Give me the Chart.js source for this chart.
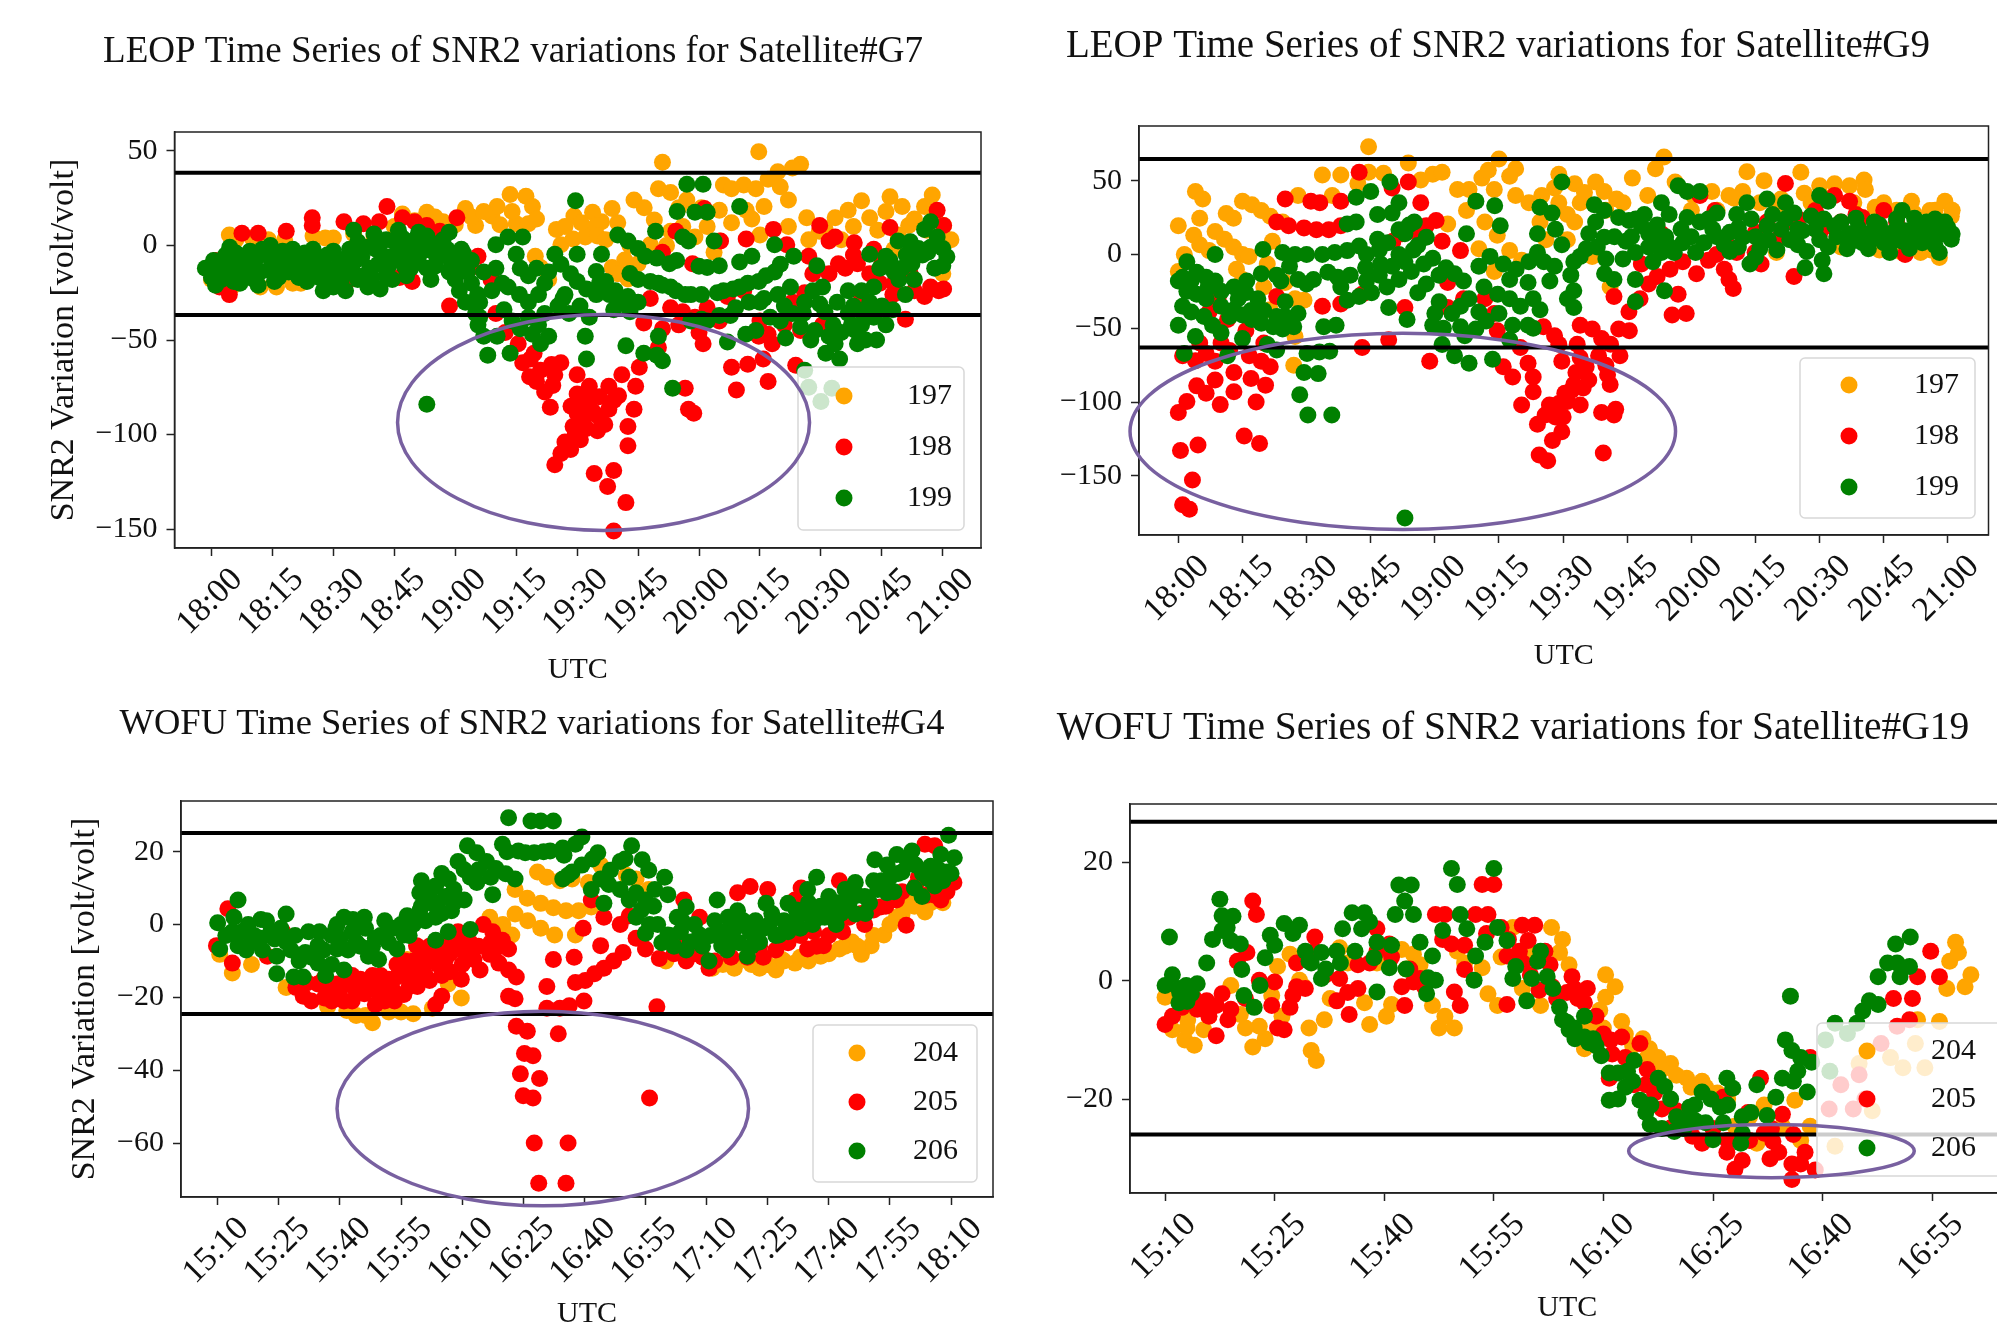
<!DOCTYPE html>
<html lang="en">
<head>
<meta charset="UTF-8">
<title>SNR2 variations</title>
<script src="https://cdn.jsdelivr.net/npm/chart.js"></script>
<style>
    html, body { margin: 0; background: #fff; width: 1997px; height: 1325px; overflow: hidden; }
    canvas { position: absolute; filter: blur(0.7px); }
</style>
</head>
<body>
<canvas id="g7"></canvas>
<canvas id="g9"></canvas>
<canvas id="g4"></canvas>
<canvas id="g19"></canvas>
<script>
// minutes after the first tick, one array of labels per time window
const tickMinutes = [0, 15, 30, 45, 60, 75, 90, 105, 120, 135, 150, 165, 180];
const leopLabels = ['18:00', '18:15', '18:30', '18:45', '19:00', '19:15', '19:30', '19:45', '20:00', '20:15', '20:30', '20:45', '21:00'];
const wofuLabels = ['15:10', '15:25', '15:40', '15:55', '16:10', '16:25', '16:40', '16:55', '17:10', '17:25', '17:40', '17:55', '18:10'];
const tickMinutesG19 = [0, 15, 30, 45, 60, 75, 90, 105];

const yTicksG7 = [50, 0, -50, -100, -150];
const yTicksG9 = [50, 0, -50, -100, -150];
const yTicksG4 = [20, 0, -20, -40, -60];
const yTicksG19 = [20, 0, -20];

const leopStations = ['197', '198', '199'];
const wofuStations = ['204', '205', '206'];
const colors = ['orange', 'red', 'green'];

// threshold lines [upper, lower]
const limitsG7 = [38.5, -36.8];
const limitsG9 = [64.6, -63];
const limitsG4 = [25.1, -24.6];
const limitsG19 = [26.9, -26];

// [minutes, SNR2 variation]
const g7_197 = [[0,-18],[5,-22],[4.4,5.5],[12,-22],[16,-22],[22,-20],[14,3],[25,5],[30,4],[47,16.6],[53,17.6],[57,12.5],[62.5,19.6],[65,10.5],[69,15.6],[70.3,20.6],[73.5,27],[77.4,26],[79,20.6],[75,11.5],[78,11.5],[84.9,8.5],[86,0.4],[89,3.4],[89.2,15.6],[93.8,17.6],[98.6,19.6],[96,12.5],[93,7.5],[92,4.5],[94.7,10.5],[79.7,-5.7],[81,-11.7],[83,-18],[111,44],[134.7,49.6],[145,43],[143,41],[139.4,39],[137,35],[131,32],[126,32],[110,30],[113,28],[117,24],[120.6,20],[125,18.6],[131.6,18.6],[136,20.6],[142,24],[104,24],[106.5,20],[109,13.5],[113,7.5],[119,4.5],[125,2.4],[135,5.5],[146.5,14.6],[149.6,7.5],[153.5,14.6],[156.7,18.6],[160,23.7],[162,14.6],[167,25.7],[170,20.6],[175.5,20.6],[177.4,26.7],[180.2,10.5],[171.6,10.5],[169,5.5],[105,-9.7],[101.7,-7.7],[98.6,-11.7],[102.5,-17.8],[123.7,-3.6],[108,0.4],[180,-15],[174,-5],[6,3],[10,4],[18,3],[20,-20],[28,4],[35,6],[40,5],[45,10],[50,13],[55,15],[60,11],[64,15],[67,18],[71,11],[74,18],[80,14],[87,10],[91,12],[95,5],[100,12],[97,3],[103,0],[100,-15],[112,0],[116,10],[115,20],[128,12],[122,10],[128,30],[134,30],[140,31],[133,14],[142,10],[147,3],[151,9],[155,3],[158,10],[164,8],[166,18],[173,14],[178,15],[176,8],[182,3],[168,-2]];
const g7_198 = [[7.5,6.5],[11.5,6.5],[18.4,7.5],[24.8,14.6],[24.8,10.5],[32.6,12.5],[37.4,11.5],[41.3,12.5],[43.2,20.6],[47,14.6],[50,12.5],[53,10.5],[56.2,7.5],[60.4,14.6],[1,-8],[2,-22],[4.4,-26],[34,-18],[46.3,-17],[49.4,-19],[58.6,-32],[65.6,-5.7],[68.8,-18],[64,-11.7],[70,-36],[72.3,-46],[75.5,-52],[79.4,-57],[76.6,-62],[78.3,-69.4],[83.7,-63],[84.5,-68.4],[82,-77.5],[83.4,-85.6],[90,-68.4],[90,-78.5],[93,-74.5],[93,-80.5],[97.8,-74.5],[101,-68.4],[100.2,-79.5],[104.4,-74.5],[90,-88.7],[93.8,-87.6],[97.8,-86.6],[104,-86.6],[89,-95.7],[92.3,-96.8],[96.8,-94.7],[102.5,-95.7],[102.5,-105.9],[90.8,-102.8],[88.4,-107.9],[86,-110],[84.5,-116],[94.2,-120.6],[99,-119],[97.5,-127.5],[102,-136],[99,-151],[105.3,-64.4],[111,-44],[110,-54],[116.6,-75.5],[117.4,-86.6],[118.7,-88.7],[121,-52],[128,-64.4],[132,-62.8],[135.8,-60],[129.2,-76.5],[137,-72],[143.8,-63.4],[106.4,-41],[114.3,7.5],[118.4,-9.7],[121.3,19.6],[125.3,2.4],[131.6,3.4],[138.3,8.5],[111,-3.6],[108,-28],[113,-33],[116,-35],[119,-38],[125,-40],[134.7,-48],[137,-47],[141,-42],[150.4,-42],[170.8,-39],[149.7,10.5],[152,2.4],[158.2,1.4],[153.5,4.5],[154.3,-9.7],[147,-5.7],[159,-9.7],[167,9.5],[165,-9.7],[178.6,18.6],[180.2,10.5],[175.5,-27],[180.2,-23],[177,-22],[164.5,-20],[167.7,-26],[141.6,0.4],[120,-46],[115,-42],[122,-33],[127,-27],[131,-24],[135,-40],[143,-30],[146,-25],[148,-15],[152,-15],[156,-12],[145,-45],[138,-52],[158,-5],[162,-15],[172,-15],[168,-20],[173,-24],[179,-24],[163,-2],[160,-28],[87,-104],[89.5,-100],[91.5,-92],[88.5,-85],[95,-90],[95.5,-80],[91,-83],[99,-82],[95,-98],[80,-72],[78.5,-60],[81,-66],[84,-74],[86,-62]];
const g7_199 = [[-1.5,-12],[0,-17],[0.5,-8],[1,-21],[3,-14],[3.5,-5],[4.5,-1],[5,-11],[5.5,-19],[7.5,-7],[8,-15],[9.5,-3],[10,-11],[10.5,-18],[11.5,-21],[13.5,-5],[14,-13],[14.5,0],[16,-9],[16.5,-17],[18.5,-7],[19,-14],[20,-2],[21,-10],[21.5,-17],[23,-4],[24,-12],[25,-2],[26,-8],[26.5,-17],[27.5,-24],[28.5,-5],[29,-13],[30,-22],[31.5,-9],[32,-18],[33,-24],[34,-2],[34.5,-12],[35,8],[36,2],[37,-6],[37.5,-16],[38.5,-22],[40,6],[40.5,-2],[41,-10],[41.5,-23],[43,-16],[44,-6],[45,2],[46,8],[46.5,-3],[47.5,-11],[48,-16],[49.5,-6],[50,3],[51,7],[52,-3],[53,5],[53,-12],[54,-18],[55.5,-7],[56,1],[58,-2],[58.5,7],[59,-11],[60,-6],[61.5,-2],[62.5,-8],[63,-14],[60,-18],[61,-24],[62.5,-30],[65,-36],[65.6,-42],[68,-58],[73.5,-57],[70.3,-48],[67,-14],[70,0.4],[73,4.5],[76.6,4.5],[75,-4.7],[69,-24],[65.5,-26],[71.6,-20],[73,-22],[75.8,-26],[78,-30],[80.5,-26],[82,-20],[84.5,-4.7],[86,-10],[88.4,-15],[90,-19],[92.3,-23],[94.7,-26],[90,-4.7],[87,-26],[85.3,-32],[90.7,-32],[93,-38],[92,-48],[92.3,-60],[99,-34],[89.6,23.7],[96,-4.7],[94.7,-13.8],[97,-19],[99.4,-24],[102.5,-27],[105,-30],[100,5.5],[102.5,2.4],[105,-1.6],[106.8,-5.7],[103,-14.8],[102,-53],[106.4,-57],[109.6,-58],[111,-61],[110,-48],[113.5,-75.5],[53,-84],[117,32.4],[121,32.4],[114.6,18],[119,17.6],[122,17.6],[130,20.6],[109.3,7.5],[116,4.5],[117.4,2.4],[123.7,2.4],[138.6,0.4],[109.6,-6.7],[112.7,-9.7],[122,-11.7],[125,-10.7],[130,-8.7],[133,-5.7],[143.3,-5.7],[108,-19],[111,-21],[114.3,-24],[116.6,-26],[120.6,-26],[124.5,-25],[128.4,-23],[134.7,-19],[138.6,-14],[140,-10],[120.6,-39],[127.7,-37],[132.3,-30],[136,-28],[139.4,-26],[142.5,-22],[127,-51],[131.5,-47],[134,-45],[141.3,-49],[145,-43],[147.5,-50],[149,-10.7],[150.4,-22],[149.7,-31],[145.7,-36],[141,-32],[151.2,-57],[154.6,-60],[153.5,-52],[155,-46],[156.7,-36],[156.7,-24],[160,-24],[159,-52],[163.7,-50],[166,-42],[162,-30],[167.7,-34],[162,-4.7],[164.5,-12],[166,-5.7],[169,2.4],[170.8,-26],[169.2,-18],[172.4,-9.7],[175.5,8.5],[178.6,4.5],[180,-1.6],[180,-10.7],[176.3,-3.6],[174,-1.6],[177,12.5],[160,-42],[157.5,-42],[146,-66],[147,-75],[150,-82.5],[152.7,-75.5],[1,-13],[2,-10],[2.5,-18],[4,-8],[6,-4],[6.5,-14],[7,-20],[9,-9],[11,-7],[12,-14],[12.5,-2],[15,-7],[15.5,-19],[17,-13],[17.5,-3],[20,-8],[22,-13],[22.5,-6],[23.5,-19],[25,-16],[27,-12],[28,-19],[30,-3],[30.5,-16],[33,-7],[33.5,-14],[35.5,-8],[36,-18],[38,-1],[39,-12],[39.5,-17],[41.5,2],[42,-5],[43,3],[43.5,-11],[44.5,-18],[46,-8],[47,4],[48.5,-1],[49,-12],[51,-9],[52,1],[54.5,-3],[55,-11],[57,-5],[57,3],[58.5,-14],[60.5,-12],[62,-4],[64,-8],[64,-20],[66,-30],[66,-38],[67,-48],[70,-12],[72,-34],[74,-40],[76,-44],[78,-38],[79,-47],[80.5,-42],[82,-36],[83,-48],[81,-52],[76,-12],[78,-16],[80,-12],[83,-14],[86.5,-28],[88,-36],[95.5,-20],[98,-26],[100.5,-30],[103,-35],[118,-26],[122,-40],[118,-40],[105,-18],[110,-20],[113,-22],[126,-24],[130,-22],[132,-20],[136.5,-16],[120,-11],[114.5,-8],[135,-30],[129,-33],[125,-37],[137.5,-38],[140,-40],[143,-36],[146,-30],[148,-24],[151,-35],[153,-42],[148.5,-45],[152,-48],[154,-30],[158,-32],[160,-35],[158.5,-45],[161,-50],[163,-38],[165,-32],[163,-22],[168,-14],[171,-5],[173,-18],[178,-12],[175,-5],[177,-1],[181,-6],[170,-12],[167,-8],[172,2]];

const g9_197 = [[0,19.4],[4,42.7],[5.7,37.5],[5,24.6],[11.2,27.7],[12.9,24.6],[15,36],[17.2,33.6],[19.4,29.8],[21.5,25.9],[24.4,22],[1.4,0],[0,-11.6],[3.6,13],[5,6.5],[7.2,2.6],[8.6,15.5],[10.8,10.3],[12.9,5],[15,0],[16.5,-1.3],[13.6,-10],[15,-17],[20,-22],[21.5,-37.5],[22,9],[20.8,-6.5],[27.3,-30],[29.4,-31],[27,-75],[27.3,-55.6],[25,-19],[28,40],[33.7,53.8],[38,53.8],[44.5,73],[44.5,55.6],[53.8,62],[56.7,50.5],[59.5,54.3],[61.7,55.6],[65.3,44],[71,51.7],[72.5,57],[75,64.7],[78.9,58],[77.5,53],[78.9,40],[73.9,44],[71.7,22],[67.4,29.8],[63,20.7],[74.6,13],[77.5,2.6],[80.3,-4],[70.3,3.9],[73.9,-11.6],[89,54.3],[92.7,47.9],[97.6,49],[99.6,42.7],[102.5,37.5],[106.2,51.7],[111.6,58],[113.6,66],[89,35],[91,27],[92.7,22],[84.6,22],[96.8,-1.3],[101,-22],[109.8,40],[116.2,49],[124.8,42.7],[128.8,40],[133,56],[137,50],[145.6,55.6],[132,42.7],[141,37.5],[146.4,41.4],[150,46.6],[153.5,47.9],[157,46.6],[160.4,50.5],[160.7,44],[165,35],[171.5,36],[175.8,29.8],[179.3,36],[180.8,25.9],[139.9,1.3],[169.3,1.3],[173.6,1.3],[120.5,40],[120,30],[126,30],[130,38],[136,35],[140,30],[148,35],[152,38],[158,35],[163,32],[168,30],[172,28],[177,30],[181,30],[155,5],[164,3],[176,3],[178,-2],[100,30],[104,35],[94,35],[88,45],[95,42],[85,40],[86,10],[91,10],[36,40],[42,48],[48,55],[68,44],[82,35]];
const g9_198 = [[0,-107],[2,-99.6],[4.3,-89],[6.5,-94],[8.6,-85],[13,-93],[9.8,-101.7],[17,-84],[20.4,-88.5],[18.2,-100],[0.5,-132.7],[4.6,-129],[3.3,-152.7],[1,-169.5],[2.6,-172.6],[15.4,-123],[19,-128],[1,-68.6],[6.5,-67],[8.6,-72.4],[16.6,-68.6],[19.4,-72.4],[21.5,-76],[9.3,-30],[7.2,-39],[15.8,-51.7],[11.5,-44],[25,37.5],[31,36],[33.1,35],[38,36],[42.3,55.6],[23,22],[25.8,19.4],[29.4,18],[32.3,16.8],[35.2,16.8],[38,19.4],[23,-28.5],[33.7,-35],[38,-33.6],[43,-27],[43,-63],[49.2,-57.7],[58.8,-72.4],[53.8,49],[50,45],[56.7,35],[60.3,23],[58,19.4],[52.4,14],[50.2,9],[55.2,15.5],[61.7,9],[66,2.6],[53,-36],[63,-19],[63,-36],[66.7,-30],[71.7,-30],[73.9,-40],[74.6,-51.7],[76,-76],[78.2,-83],[80,-63],[81.8,-73.7],[83,-83],[83,-93],[80.3,-102],[85.4,-49],[89,-60.8],[93.3,-60.8],[89.7,-72.4],[94,-48],[96.8,-50.5],[99,-57],[95.4,-76],[100.4,-81.5],[98.3,-68.6],[103.3,-68.6],[101.1,-60.8],[103,-50.5],[105.5,-51.7],[105.4,-38.8],[101.9,-28.5],[92.5,-88],[90.4,-94],[94.7,-90.5],[91,-99.6],[94,-102],[89,-101],[86.8,-102],[85.8,-108.7],[88.2,-110],[89.7,-120],[87.5,-126],[84.4,-135.8],[86.4,-139.7],[99.4,-134.5],[99,-107],[101.9,-108.7],[102.3,-104.8],[108.3,-6.5],[112,9],[113,14],[115.5,-41],[118.8,-40],[116.9,-27],[121.2,-13],[122,40],[125.5,29.8],[125.9,0],[127.7,-10],[128.8,-17],[129.8,-23],[130.6,1.3],[136.3,-6.5],[142,48],[144,-15],[134.9,1.3],[149,29.8],[153.5,40],[157,36],[158.5,27],[152,19.4],[165,29.8],[170,0],[137.7,22],[143.5,22],[5,-60],[4,-72],[10,-60],[13,-80],[12,-65],[20,-60],[100,-75],[101,-88],[93,-80],[96,-85],[88,-55],[84,-115],[94,-70],[90,-110],[92,-92],[108,-30],[112,-15],[115,-10],[118,-5],[110,-20],[124,-4],[128,10],[135,15],[140,10],[145,24],[150,14],[155,22],[160,25],[162,10],[168,22],[173,20]];
const g9_199 = [[0,-18],[1,-15.5],[2,-5],[0,-48],[1,-35],[3,-39],[4.3,-27],[6.5,-30],[4.3,-12],[6.5,-15.5],[8.6,-18],[8.6,0],[4,-55.6],[1.4,-67],[8,-48],[10,-53],[11.5,-68.6],[10,-35],[13,-37.5],[15,-41],[17.2,-44],[19.4,-46.6],[22.2,-49],[24.4,-50.5],[27,-49],[15,-57],[20.8,-61],[23,-64.7],[13,-22],[15.8,-26],[18.6,-30],[19.4,-13],[23,-14],[25,-32],[19.8,3.4],[24.4,1.3],[27.3,0],[30,0],[33.7,0],[36.6,1.3],[39.5,2.6],[42.3,5.7],[28,-17],[31.6,-17],[37.3,-15.5],[40.2,-14],[43.8,-9],[47.3,-6.5],[51.6,0],[46.6,10.3],[51.6,35],[49.5,49],[45,42.7],[41.6,38.8],[39.5,20.7],[41.6,22],[46.6,27],[51.6,16.8],[55.2,22],[58,11.6],[39.5,-31],[42.3,-28.5],[45.2,-26],[48.8,-22],[51.6,-17],[54.5,-11.6],[57.4,-6.5],[59.5,-2.6],[34,-49],[36.9,-48],[30.1,-67],[33,-66],[35.4,-65.5],[29.4,-80],[32.7,-80.7],[28.4,-95],[30.3,-108.7],[35.9,-108.7],[53,-178.5],[49.2,-36],[53.5,-44],[56,-26],[59.5,-48],[61,-32],[61.7,-61],[64.6,-68.6],[68,-73.7],[73.5,-71],[66,-49],[66,-35],[70.3,-39],[69.6,-50.5],[62.6,-9],[61,-14],[66.7,-18],[64.6,-13],[67.4,14],[69.6,36],[74,33],[75.3,19.4],[70.3,-8],[72.9,-1.3],[76,-6.5],[71.5,-22],[74.7,-27],[77.5,-17],[77.5,-30],[78.2,-48],[77.5,-58],[81.8,-19],[84.6,-37.5],[81.8,-48],[84.6,32],[87.4,28],[84,14],[84,1.3],[85.5,-5],[86.9,-18],[89.7,49],[88.2,17],[89.7,6.5],[92.5,-5],[91.8,-14],[92.5,-24.6],[91,-30],[92.5,-36],[95.4,3.9],[94,-1.3],[97.3,33.6],[99.6,29.8],[97.6,22],[99.6,11.6],[99.7,-13],[101.9,-17],[105.4,23],[104.7,9],[106.9,-17],[108.3,19.4],[106.9,1.3],[109,27],[113,35],[114.8,27],[113.7,-24.6],[106.9,-32],[116.9,46.6],[119,42.7],[122,42.7],[117.6,17],[122,22],[121,1.3],[116,1.3],[112,9],[113,1.3],[125,17],[127.7,6.5],[130.6,27],[133,35],[132,11.6],[133.7,-6.5],[137.7,37.5],[137.7,19.4],[136,3.9],[142,35],[141,17],[144.9,6.5],[146.6,-9],[150,40],[152,36],[150.6,-4],[151,-13],[149,17],[153.5,19.4],[156.4,3.9],[158.5,24.6],[162.8,22],[161.4,3.9],[166.4,1.3],[169.3,29.8],[167.9,17],[172.2,24.6],[172.2,9],[175,22],[178,1.3],[179.3,22],[180.8,10.3],[178,17],[169.3,9],[144.9,17],[158.8,14],[96,14],[98,5],[100,-3],[102,12],[103,25],[104,-3],[106,12],[107,24],[110,14],[110,5],[111,-5],[112,20],[114,12],[115,5],[118,8],[119,25],[120,12],[123,8],[124,24],[126,28],[126,12],[129,15],[129,2],[131,5],[131,18],[134,24],[135,12],[135,-2],[138,10],[139,27],[140,3],[142,24],[143,10],[144,28],[146,16],[147,2],[148,26],[150,10],[151,24],[152,5],[154,12],[155,22],[157,14],[157,8],[159,18],[160,8],[161,14],[163,12],[164,20],[165,8],[166,14],[168,10],[168,24],[170,16],[171,4],[173,16],[174,8],[176,14],[177,6],[177,24],[179,14],[180,18],[181,14],[2,-25],[3,-18],[6,-42],[7,-22],[10,-25],[12,-42],[14,-30],[16,-18],[17,-38],[20,-38],[23,-42],[25,-42],[28,-40],[26,-8],[24,-18],[30,-20],[35,-12],[38,-22],[44,-18],[47,-14],[50,-8],[53,-5],[55,3],[58,-20],[60,-40],[62,-50],[64,-40],[67,-55],[68,-30],[72,-45],[75,-40],[80,-35],[83,-30],[79,-10],[82,-5],[88,-8],[83,-50],[44,0],[47,3],[49,8],[53,14],[56,6],[50,28],[54,20]];

const g4_204 = [[0.5,-8.2],[3.6,-13.3],[8.3,-11],[16.8,-17.3],[27,-22.6],[31.7,-23.6],[38,-27],[36.3,-25],[45,-24],[48,-24.5],[52.7,-23],[56.6,-16.3],[59.8,-20.2],[66.8,2],[70,0],[72.2,-2.9],[46.5,-9.6],[73,2.9],[76.1,1],[79.3,-1],[82.7,-2.9],[87.8,-2.9],[73,9.6],[76,7.2],[79.3,5.8],[82.4,4.6],[85.5,3.8],[88.6,3.8],[91.7,4.8],[94,16.3],[78.5,14.4],[80.8,13],[84,12],[87,12.5],[91,11.5],[105.8,9.6],[102.7,12.5],[100.3,13.5],[121.4,-12],[126.8,-12],[133,-12],[137,-12.5],[141.7,-10.6],[148,-8.7],[152.6,-6.7],[158,-8.2],[160.4,-5.8],[163.5,-2.9],[166.6,2],[169.7,5.8],[173.6,3.4],[176.8,7.7],[138.5,-9.6],[129.2,-9.6],[155.7,-4.8],[27,-22],[34,-25],[42,-24],[110,-10],[124,-11],[131,-11],[135,-11],[139,-10],[143,-9],[145,-10],[150,-8],[154,-6],[157,-6],[161,-3],[165,0],[168,3],[171,5],[175,6],[178,6]];
const g4_205 = [[2.5,4.3],[-0.3,-5.8],[3.6,-10.6],[12.2,-8.7],[16,-2],[21,-19.7],[19.2,-17.3],[26.2,-20.2],[24.6,-16.3],[31,-21],[29.3,-16.3],[34,-18.3],[31.7,-13.5],[38.7,-22],[37,-16.3],[41,-17.3],[43.4,-21],[44,-14.4],[45.7,-19.2],[48.8,-5.8],[48,-13.5],[50.4,-11.5],[53.5,-22],[55,-19.7],[53.5,-6.7],[55.9,-9.6],[52,-15.4],[56.6,-4.8],[59.8,-15],[59,-2],[60.5,-7.7],[62.9,-9.6],[64.4,-12.5],[65.2,0],[67.5,-2],[69.9,-4.3],[71.4,-6.7],[66.8,-8.2],[69,-10.6],[71.4,-12.5],[73.3,-14.4],[71.4,-19.7],[73,-20.4],[82.4,-9.6],[87.5,-9],[80.8,-17],[87.8,-15.9],[90.2,-15.4],[92.5,-13.5],[94.8,-12],[97.2,-10],[99.5,-7.7],[89.7,-1],[94.8,2],[94,-5.8],[98.8,0],[101,2.4],[89.9,-21],[80.8,-23],[84,-23],[86.3,-22.3],[107.8,-22.6],[91.7,6.7],[73.3,-27.9],[76,-29.3],[83.6,-30],[75.3,-35.4],[77.4,-36],[74.3,-41],[79,-42.3],[75,-47],[77.4,-47.6],[106,-47.6],[77.7,-60],[86,-60],[78.8,-71],[85.5,-71],[102.7,-3.8],[105,-6.7],[108.4,-9.3],[114.4,6.7],[115,-10],[118.3,2],[120.6,-12],[127.6,8.7],[130.7,10.4],[135,9.6],[133.9,-9],[143.2,10],[144.8,-6.7],[148.7,-5.8],[152.6,12],[153.4,-2],[158.8,0],[169,-0.2],[162.7,4.8],[166.6,6.7],[173.6,22],[176,21.6],[180.7,11.5],[177.5,6.7],[171.3,10.6],[146.3,-2],[141.7,6.7],[22,-16],[23,-21],[26,-15],[27,-18],[28,-21],[30,-18],[32,-16],[33,-14],[33,-21],[35,-15],[36,-19],[38,-14],[39,-18],[40,-14],[41,-21],[42,-15],[43,-18],[46,-14],[47,-17],[48,-10],[49,-17],[50,-8],[51,-14],[54,-11],[55,-14],[57,-8],[57,-13],[58,-6],[61,-4],[60,-11],[62,-5],[64,-6],[67,-5],[68,-7],[44,-11],[46,-10],[52,-10],[52,-6],[112,-8],[114,-5],[117,-8],[119,-9],[122,-10],[126,-9],[130,-9],[133,-6],[137,-7],[140,-5],[143,-3],[147,-6],[150,-3],[155,2],[158,3],[161,4],[164,5],[168,9],[172,13],[178,13],[179,9],[176,8],[174,8]];
const g4_206 = [[0,0.5],[0.5,-6.7],[5,6.7],[3.6,-2],[5,-5.8],[7.5,0],[8.3,-4.8],[10.6,1.4],[10.6,-3.8],[13,-2],[14.5,-8.7],[14.5,-13.5],[16.8,2.9],[16.8,-4.8],[18.7,-14.4],[21,-14.4],[22.3,-2],[21.5,-7.7],[24.6,-5.8],[24.6,-10.6],[26.5,-14],[29,-1],[29.3,0],[29.3,-6.7],[31,-12.5],[33.2,1.4],[34,-4.8],[36.3,-1],[37,-8.7],[39.5,-9.6],[41,1],[38.7,-3.8],[44,-6.7],[46.5,2.4],[48,0],[45.7,-2.9],[49.6,8.7],[52,8.7],[53.5,10.6],[52.7,5.8],[49.6,3.8],[53.5,2],[55.9,7.7],[56.6,12.5],[58,9.6],[60.5,6.7],[57.4,3.8],[53.5,-4.3],[56.6,-2],[62,-1.4],[59,17.3],[61.3,21.6],[63.6,19.7],[66,17.3],[68.3,15.4],[70.7,13.9],[73,12.5],[63.6,11.5],[67.5,8.2],[69.9,22],[73.8,20.2],[77.7,19.7],[81.6,20.2],[84.7,21],[87.8,22],[89.4,24],[71.4,29.3],[76.9,28.4],[79.3,28.4],[82.4,28.4],[84.7,12.5],[87,14.4],[89.4,16.3],[93.3,19.7],[91.7,9.6],[94,12.5],[96.4,14.9],[98.8,17.3],[101.6,21.6],[104.2,17.8],[98.8,9.6],[101,13],[94.8,5.8],[101,6.7],[105.8,14.9],[109.7,13],[107.3,9.6],[110.5,8.2],[102.7,8.7],[105,6.7],[102.7,2],[105,-2.4],[108,0],[110.5,-2.9],[112.8,2],[115,4.8],[113.6,-2],[116,-4.8],[118.3,-2.9],[120.6,-10],[122.6,6.7],[123.7,-5.8],[125.3,2],[126,-3.8],[127.6,3.8],[130,-8.7],[130.7,-2],[133,-4.8],[134.6,5.8],[135.4,0],[137.8,-2.9],[140,5.8],[141.7,1],[144.8,9.6],[147,13],[144.8,2.9],[147.9,2],[150,7.7],[151.8,0],[154,9.6],[156.5,11.5],[156.5,2.9],[158.8,7.7],[161.3,17.8],[162,9.6],[164.3,8.7],[166.7,19.2],[164.3,16.3],[168,14.4],[170.4,20.2],[171.3,16.3],[172.9,7.7],[174.4,12.5],[176,10.6],[177.5,19.2],[179.4,24.5],[180.8,18.3],[179,14.4],[2,-3],[4,2],[6,-2],[7,-7],[9,-3],[11,-7],[12,1],[14,-4],[15.5,-1],[18,-7],[19,-3],[20,-10],[23,-9],[25,-2],[26,-7],[28,-3],[28,-11],[30,-4],[31,2],[32,-7],[33,-2],[35,-6],[36,2],[38,-6],[40,-3],[42,-5],[43,-1],[45,0],[47,-3],[50,5],[51,1],[54,6],[55,3],[58,6],[50,12],[55,14],[104,4],[106,0],[107,5],[109,-5],[111,-3],[112,-6],[114,1],[115,-7],[117,0],[119,-6],[121,-3],[122,1],[124,-2],[125,-7],[127,-1],[128,-5],[129,1],[131,-6],[132,1],[134,-1],[136,3],[137,-3],[139,1],[140,-2],[142,4],[143,-1],[145,6],[146,0],[148,5],[149,2],[151,4],[152,6],[153,3],[155,6],[157,8],[159,3],[160,6],[161,12],[163,12],[165,13],[166,9],[167,14],[169,18],[171,10],[173,14],[175,16],[178,12],[180,14],[177,15],[60.5,15],[62,13],[64,15],[67,13],[85,19],[80,20],[71,20],[75.5,19.7],[86,13.5],[92,18],[96,11],[100,18]];

const g19_204 = [[0,-2.8],[1,-8.3],[2.7,-10],[4,-10.9],[3.1,-6.6],[5.3,-8.3],[9,-0.8],[10.3,-5.7],[12,-11.2],[13.7,-9.8],[12.9,-7.7],[15.4,2.4],[14.6,-2.5],[17.1,4.5],[18.4,0.1],[19.7,-8],[21.8,-6.6],[20,-11.8],[20.7,-13.5],[22.6,-3],[23.9,5.6],[27.3,-3.7],[28,-7.4],[30.3,-6],[32.4,5.3],[34,4.5],[34.9,2.7],[36.6,-4.2],[37.5,-8],[39.6,-8],[38.3,-6],[40,5],[43.4,2.2],[44.2,-2.2],[45.5,-4.2],[47.6,9],[48.9,-1.3],[51.4,-4.2],[52.9,9],[54.4,7],[54,4.8],[55.3,2.7],[57.4,-11.5],[60.3,1],[61.6,-1],[60.3,-2.8],[59.5,-5],[62.5,-6.9],[65.4,-9.8],[66.3,-11.5],[67.5,-13],[69.2,-14],[71.4,-16.5],[73.5,-17],[75.6,-19],[78,-24.6],[81,-27.5],[82,-21],[84.5,-24.6],[86.2,-20.2],[87,-27],[88.3,-24.6],[96.8,-22],[91.7,-28],[95,-14],[99.3,-13],[101,-14.7],[104,-14.7],[103,-6.6],[106,-6.9],[102.7,-10.6],[107,-1.3],[107.4,3.3],[108.2,6.5],[108.6,4.8],[109.5,-1],[110.3,1],[3,-8],[6,-6],[11,-8],[16,-6],[19,-1],[25,3],[29,3],[31,-4],[33,2],[41,3],[46,4],[50,5],[58,-8],[60,-8],[63,-9],[64,-11],[66,-13],[68,-15],[70,-16],[72,-18],[74,-18],[77,-20],[80,-23]];
const g19_205 = [[0,-7.4],[1,-6],[2.3,-4.5],[4.4,-4.8],[5.7,-3.4],[7,-4.2],[7,-9.3],[7.8,-2.2],[9,-4.8],[8.6,-6.6],[9.9,3.3],[11.2,4.8],[12,13.5],[12.5,11.2],[12.9,0.1],[14.6,-4.2],[15,-0.2],[15.4,-8],[16.3,-8.3],[17.1,-4.5],[17.5,-2.5],[18,3],[19.2,-1.3],[20.5,7.4],[20.5,5],[23.9,0.4],[23.5,-3.4],[25.2,-5.7],[26.4,-1.3],[26.4,2.7],[29,8.8],[30.7,6.2],[32.8,-4.2],[32.4,-1],[34,-0.2],[34.9,0.4],[37,11.2],[38.3,11.2],[39.2,6.2],[39.6,-1.9],[40.4,-4.2],[41,1.9],[42.5,11.2],[44.2,11.2],[43.4,16.3],[45,16.3],[46.8,-4],[46.8,4.2],[48.5,5],[48.9,9.4],[50.6,9.4],[49.7,6.8],[51.2,-1.6],[52.7,2.7],[53.6,-3],[55.7,0.7],[56,-1.3],[57.4,-3.7],[57.8,-1.3],[59,-6],[62.5,-9.5],[60.8,-16.5],[61.2,-12.4],[65,-10.6],[64.2,-17.6],[65.8,-17.6],[68,-21.7],[69.2,-24.9],[72.2,-26.3],[73.5,-27.5],[76.4,-19.7],[76.9,-29],[79,-30.4],[78,-31.9],[82.8,-30.1],[81.5,-16.5],[79.8,-22.3],[82,-25.8],[83.2,-27.2],[85.8,-31],[85.8,-33.6],[87,-31],[87.6,-29],[88.3,-13],[84.5,-22.6],[89,-32],[90.9,-21.7],[94.2,-21.7],[92.5,-17.6],[95,-15.9],[95.8,-20],[98,-10.6],[99.7,-3],[102.3,-3],[100.2,-7.7],[101.9,-6.6],[103,0.7],[104.8,5],[106,0.7],[6,-6],[4,-3],[11,-3],[18,-1],[22,1],[25,-2],[28,3],[29,5],[31,4],[33.5,2],[35.5,-1],[38,7],[41,6],[44,8],[46,9],[47,7],[49,3],[50,1],[52,5],[53,-1],[55,-2],[56.5,-3],[60,-9],[61,-10],[63,-13],[66,-15],[67,-19],[70,-22],[71,-25],[75,-25],[77,-27],[80,-27],[83,-25],[84,-29],[86,-26]];
const g19_206 = [[0.6,7.4],[0,-0.8],[1,1],[1.9,-3.7],[2.9,-0.8],[3.6,-2.2],[4.4,-0.5],[1.9,-1.3],[5.7,3],[6.5,7],[7.5,13.8],[7.8,11],[9.3,10.9],[7.8,8.5],[9,6.8],[10.3,6.2],[10.5,1.9],[10.8,-2.5],[12.2,-4.5],[13,-0.8],[13.7,3.9],[14.4,7.7],[16.3,9.7],[17.5,8],[18.4,9.4],[19.2,5],[19.7,3.3],[21.4,4.8],[21.4,0.4],[23.5,5],[24.3,8.8],[25.6,11.5],[27.3,11.5],[26.9,8.8],[29,6.5],[28.6,3.9],[30.7,2.2],[29,-1.9],[31.5,11.2],[34,11.2],[32.8,13.5],[32,16.2],[33.7,16.2],[34.9,6.5],[35.8,-2.2],[36.6,4.2],[37,0.1],[38,8.5],[39.2,19],[40,16.3],[40.4,11.2],[41.3,8.8],[42.5,4.2],[42.3,0.1],[43.8,6.5],[45,19],[45.5,9],[46.8,6.8],[48,2.4],[47.6,0.4],[49.5,-3.4],[51,3.3],[51.4,5],[50.2,0.4],[52.3,0.7],[53.1,-1.3],[54,-4.5],[54.4,-6.6],[55.3,-8.3],[56.1,-9.8],[57.4,-6],[57.4,-9.5],[58.6,-9.8],[59.7,-12.7],[60.8,-15.6],[62,-15.6],[63.3,-15.3],[64.2,-13.5],[60.8,-20.2],[62,-20],[65,-20.2],[65.8,-22.3],[66.4,-24.3],[67.5,-16.5],[68.4,-17.9],[69.2,-20],[69.7,-25.5],[71,-23.7],[71.8,-21.4],[72.6,-23.7],[73.5,-18.8],[74.7,-20],[75,-26.9],[76,-21.4],[76.4,-24],[76.9,-16.5],[77.7,-18.2],[78.8,-27.5],[80.2,-22.3],[79,-25.8],[81,-17.6],[82.4,-22.8],[83.6,-19.7],[84.5,-16.5],[84.9,-10],[85.8,-11.8],[85.6,-2.6],[86.6,-15.3],[87.9,-18.8],[88.5,-13.8],[90.4,-10],[91.7,-7.2],[93.4,-8.9],[94.7,-7.2],[91,-15.3],[96.4,-3.4],[95.5,-5.1],[97.6,-4],[97.6,0.7],[98.9,3],[100.6,0.7],[100.2,3],[101.9,2.4],[100,6.2],[102,7.4],[2,-2],[3,-3.5],[8.5,9],[15,6],[20,3],[22,2],[24,3],[26,5],[28,10],[31,6],[33,2],[36,0.5],[55,-7],[56,-8],[58,-10.5],[59,-11],[63,-18],[64,-17],[66.5,-21],[68,-25],[70,-23],[71,-25],[72.5,-21],[74,-24],[77,-21],[79,-23],[86,-17],[87,-13]];

const fontFamily = '"Liberation Serif", "Times New Roman", serif';
const markerRadius = 8.5;

// plot = chart area in page pixels, titleX/titleY = centre of the title on the page
const panels = [
    {
        id: 'g7', title: 'LEOP Time Series of SNR2 variations for Satellite#G7', yTitle: 'SNR2 Variation [volt/volt]',
        series: [g7_197, g7_198, g7_199], names: leopStations, limits: limitsG7, yTicks: yTicksG7,
        ticks: tickMinutes, labels: leopLabels, xRange: [-9.1, 189.4], yRange: [-160, 60],
        canvas: { left: 0, top: 0, width: 1026, height: 700 }, plot: { left: 174.5, right: 981, top: 132, bottom: 548 },
        titleX: 513, titleY: 52.5, titleSize: 37, utcPad: 12, yTitleX: 64,
        ellipse: { x: 96.5, y: -93.6, rx: 50.7, ry: 57.1 },
        legend: { x: 798, y: 367, w: 166, h: 163, markX: 844, textX: 907, rows: [396, 447, 498] }
    },
    {
        id: 'g9', title: 'LEOP Time Series of SNR2 variations for Satellite#G9',
        series: [g9_197, g9_198, g9_199], names: leopStations, limits: limitsG9, yTicks: yTicksG9,
        ticks: tickMinutes, labels: leopLabels, xRange: [-9.2, 189.5], yRange: [-190, 87],
        canvas: { left: 999, top: 0, width: 998, height: 700 }, plot: { left: 1139, right: 1993, top: 126, bottom: 535 },
        titleX: 1498, titleY: 47, titleSize: 39, utcPad: 26,
        ellipse: { x: 52.5, y: -119.8, rx: 63.8, ry: 66.4 },
        legend: { x: 1800, y: 358, w: 175, h: 160, markX: 1849, textX: 1914, rows: [385, 436, 487] }
    },
    {
        id: 'g4', title: 'WOFU Time Series of SNR2 variations for Satellite#G4', yTitle: 'SNR2 Variation [volt/volt]',
        series: [g4_204, g4_205, g4_206], names: wofuStations, limits: limitsG4, yTicks: yTicksG4,
        ticks: tickMinutes, labels: wofuLabels, xRange: [-9, 190.3], yRange: [-74.8, 33.9],
        canvas: { left: 0, top: 680, width: 1064, height: 665 }, plot: { left: 181, right: 993, top: 801, bottom: 1197 },
        titleX: 532, titleY: 724.5, titleSize: 36.5, utcPad: 13, yTitleX: 85,
        ellipse: { x: 79.8, y: -50.5, rx: 50.5, ry: 26.7 },
        legend: { x: 813, y: 1025, w: 164, h: 157, markX: 857, textX: 913, rows: [1053, 1102, 1151] }
    },
    {
        id: 'g19', title: 'WOFU Time Series of SNR2 variations for Satellite#G19',
        series: [g19_204, g19_205, g19_206], names: wofuStations, limits: limitsG19, yTicks: yTicksG19,
        ticks: tickMinutesG19, labels: wofuLabels, xRange: [-4.8, 114.9], yRange: [-35.9, 29.9],
        canvas: { left: 1013, top: 680, width: 1000, height: 665 }, plot: { left: 1130, right: 2011, top: 804, bottom: 1193 },
        titleX: 1513, titleY: 728.5, titleSize: 39.5, utcPad: 19,
        ellipse: { x: 83, y: -28.8, rx: 19.55, ry: 4.5 },
        legend: { x: 1817, y: 1023, w: 193, h: 153, markX: 1867, textX: 1931, rows: [1051, 1099, 1148] }
    }
];

// spines, the semi transparent legend and the hand drawn ellipse go over the marks
const overlayPlugin = {
    id: 'overlay',
    afterLayout(chart, args, opts) {
        // the titles are not centred on the plots in the figure
        chart.titleBlock.left = 0;
        chart.titleBlock.right = 2 * (opts.panel.titleX - opts.panel.canvas.left);
    },
    afterDraw(chart, args, opts) {
        const p = opts.panel, ctx = chart.ctx, area = chart.chartArea;
        const ox = p.canvas.left, oy = p.canvas.top;
        ctx.save();
        ctx.strokeStyle = '#222';
        ctx.lineWidth = 1.5;
        ctx.strokeRect(area.left, area.top, area.right - area.left, area.bottom - area.top);

        const lg = p.legend;
        ctx.beginPath();
        ctx.roundRect(lg.x - ox, lg.y - oy, lg.w, lg.h, 5);
        ctx.fillStyle = 'rgba(255,255,255,0.8)';
        ctx.fill();
        ctx.strokeStyle = '#d8d8d8';
        ctx.lineWidth = 1.5;
        ctx.stroke();
        ctx.font = '30px ' + fontFamily;
        ctx.textBaseline = 'middle';
        ctx.textAlign = 'left';
        lg.rows.forEach((rowY, i) => {
            ctx.beginPath();
            ctx.arc(lg.markX - ox, rowY - oy, markerRadius, 0, Math.PI * 2);
            ctx.fillStyle = colors[i];
            ctx.fill();
            ctx.fillStyle = '#111';
            ctx.fillText(p.names[i], lg.textX - ox, rowY - oy);
        });

        const xs = chart.scales.x, ys = chart.scales.y, e = p.ellipse;
        const cx = xs.getPixelForValue(e.x), cy = ys.getPixelForValue(e.y);
        ctx.beginPath();
        ctx.ellipse(cx, cy, Math.abs(xs.getPixelForValue(e.x + e.rx) - cx), Math.abs(ys.getPixelForValue(e.y + e.ry) - cy), 0, 0, Math.PI * 2);
        ctx.strokeStyle = '#7860a0';
        ctx.lineWidth = 3.5;
        ctx.stroke();
        ctx.restore();
    }
};

panels.forEach(p => {
    const el = document.getElementById(p.id);
    el.width = p.canvas.width;
    el.height = p.canvas.height;
    el.style.left = p.canvas.left + 'px';
    el.style.top = p.canvas.top + 'px';

    const plotTop = p.plot.top - p.canvas.top;
    const titleCentre = p.titleY - p.canvas.top;
    const titleBox = p.titleSize * 1.2;
    const leftBox = p.plot.left - p.canvas.left;
    const bottomBox = p.canvas.top + p.canvas.height - p.plot.bottom;

    const datasets = p.series.map((points, i) => ({
        label: p.names[i],
        data: points.map(pt => ({ x: pt[0], y: pt[1] })),
        backgroundColor: colors[i],
        pointRadius: markerRadius,
        pointBorderWidth: 0,
        order: 5 - i
    }));
    p.limits.forEach(level => datasets.push({
        data: [{ x: p.xRange[0], y: level }, { x: p.xRange[1], y: level }],
        showLine: true,
        borderColor: 'black',
        borderWidth: 4,
        pointRadius: 0,
        order: 0
    }));

    new Chart(el, {
        type: 'scatter',
        data: { datasets },
        plugins: [overlayPlugin],
        options: {
            responsive: false,
            animation: false,
            layout: { padding: { right: p.canvas.left + p.canvas.width - p.plot.right } },
            plugins: {
                legend: { display: false },
                tooltip: { enabled: false },
                overlay: { panel: p },
                title: {
                    display: true,
                    text: p.title,
                    color: '#111',
                    font: { family: fontFamily, size: p.titleSize, weight: 'normal', lineHeight: 1.2 },
                    padding: { top: titleCentre - titleBox / 2, bottom: plotTop - titleCentre - titleBox / 2 }
                }
            },
            scales: {
                x: {
                    type: 'linear',
                    min: p.xRange[0],
                    max: p.xRange[1],
                    afterBuildTicks: s => { s.ticks = p.ticks.map(v => ({ value: v })); },
                    afterFit: s => { s.height = bottomBox; s.paddingLeft = 0; s.paddingRight = 0; },
                    grid: { drawOnChartArea: false, drawTicks: true, tickLength: 8, tickColor: '#222', tickWidth: 1.5 },
                    border: { color: '#222', width: 1.5 },
                    ticks: {
                        autoSkip: false, minRotation: 45, maxRotation: 45, padding: 4, labelOffset: 26, color: '#111',
                        font: { family: fontFamily, size: 34 },
                        callback: (v, i) => p.labels[i]
                    },
                    title: {
                        display: true, text: 'UTC', color: '#111',
                        font: { family: fontFamily, size: 30, lineHeight: 1.2 },
                        padding: { top: 0, bottom: p.utcPad }
                    }
                },
                y: {
                    min: p.yRange[0],
                    max: p.yRange[1],
                    afterBuildTicks: s => { s.ticks = p.yTicks.map(v => ({ value: v })); },
                    afterFit: s => { s.width = leftBox; s.paddingTop = 0; s.paddingBottom = 0; },
                    grid: { drawOnChartArea: false, drawTicks: true, tickLength: 8, tickColor: '#222', tickWidth: 1.5 },
                    border: { color: '#222', width: 1.5 },
                    ticks: {
                        padding: 9, color: '#111',
                        font: { family: fontFamily, size: 30 },
                        callback: v => String(v).replace('-', '\u2212')
                    },
                    title: {
                        display: !!p.yTitle, text: p.yTitle || '', color: '#111',
                        font: { family: fontFamily, size: 34, lineHeight: 1.2 },
                        padding: { top: (p.yTitleX || 66) - 20, bottom: 0 }
                    }
                }
            }
        }
    });
});
</script>
</body>
</html>
